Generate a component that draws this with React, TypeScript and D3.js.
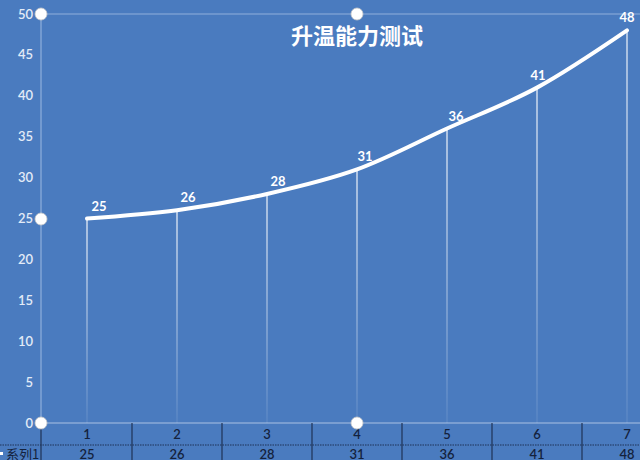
import React from "react";
import * as d3 from "d3";

const categories = ["1", "2", "3", "4", "5", "6", "7"];
const values = [25, 26, 28, 31, 36, 41, 48];
const yTicks = [0, 5, 10, 15, 20, 25, 30, 35, 40, 45, 50];
const seriesName = "系列1";
const title = "升温能力测试";
const labelDx = [12, 11, 11, 8, 9, 1, 0];

const W = 640;
const H = 460;
const BG = "#4a7bbf";

export default function App() {
  const x = d3.scaleBand<string>().domain(categories).range([42, 672]).padding(0);
  const y = d3.scaleLinear().domain([0, 50]).range([423, 14]);
  const cx = (c: string) => (x(c) as number) + x.bandwidth() / 2;
  const pts: [number, number][] = categories.map((c, i) => [cx(c), y(values[i])]);
  const line = d3.line().curve(d3.curveMonotoneX)(pts) || "";
  const bounds = categories.map((c) => x(c) as number).slice(1);
  const font = "Lato, 'Noto Sans CJK SC', sans-serif";

  return (
    <svg width={W} height={H} style={{ position: "absolute", left: 0, top: 0 }} fontFamily={font}>
      <defs>
        <linearGradient id="drop" x1="0" y1="0" x2="0" y2="1">
          <stop offset="0" stopColor="#ffffff" stopOpacity={0.75} />
          <stop offset="1" stopColor="#ffffff" stopOpacity={0.08} />
        </linearGradient>
      </defs>
      <rect x={0} y={0} width={W} height={H} fill={BG} />
      {/* plot borders */}
      <line x1={41} x2={W} y1={14} y2={14} stroke="#8fb0dc" strokeWidth={1.2} />
      <line x1={41} x2={41} y1={14} y2={423} stroke="#8fb0dc" strokeWidth={1.2} />
      <line x1={41} x2={W} y1={423} y2={423} stroke="#a9c1e4" strokeWidth={1.2} />
      {/* y ticks */}
      {yTicks.map((t) => (
        <text key={t} x={33} y={y(t)} dy="0.35em" textAnchor="end" fontSize={13} fontWeight={600} fill="#e3ebf7">
          {t}
        </text>
      ))}
      {/* drop lines */}
      {pts.map((p, i) => (
        <rect key={i} x={p[0] - 0.75} y={p[1]} width={1.5} height={423 - p[1]} fill="url(#drop)" />
      ))}
      {/* line */}
      <path d={line} fill="none" stroke="#ffffff" strokeWidth={4} strokeLinecap="round" />
      {/* data labels */}
      {pts.map((p, i) => (
        <text key={i} x={p[0] + labelDx[i]} y={p[1] - 8} textAnchor="middle" fontSize={13} fontWeight="bold" fill="#ffffff">
          {values[i]}
        </text>
      ))}
      {/* title */}
      <text x={357} y={44} textAnchor="middle" fontSize={22} fontWeight="bold" fill="#ffffff" fontFamily="'Noto Sans CJK SC', serif">
        {title}
      </text>
      {/* data table */}
      <line x1={0} x2={W} y1={445} y2={445} stroke="#1f3356" strokeWidth={1} strokeDasharray="1.5,1" />
      <line x1={41} x2={41} y1={423} y2={H} stroke="#1f3356" strokeWidth={1.2} />
      {bounds.map((b, i) => (
        <line key={i} x1={b} x2={b} y1={423} y2={H} stroke="#1f3356" strokeWidth={1.2} />
      ))}
      {categories.map((c) => (
        <text key={c} x={cx(c)} y={434} dy="0.35em" textAnchor="middle" fontSize={13} fontWeight={600} fill="#14223d">
          {c}
        </text>
      ))}
      {categories.map((c, i) => (
        <text key={c} x={cx(c)} y={454} dy="0.35em" textAnchor="middle" fontSize={13} fontWeight={600} fill="#14223d">
          {values[i]}
        </text>
      ))}
      <rect x={0} y={452} width={3} height={3} fill="#ffffff" />
      <text x={6} y={454} dy="0.35em" fontSize={13} fill="#14223d" fontFamily="'Noto Sans CJK SC', sans-serif">
        {seriesName}
      </text>
      {/* selection handles */}
      {[
        [41, 14],
        [357, 14],
        [41, 219],
        [41, 423],
        [357, 423],
      ].map(([hx, hy], i) => (
        <circle key={i} cx={hx} cy={hy} r={6} fill="#ffffff" stroke="#c8c8c8" strokeWidth={0.8} />
      ))}
    </svg>
  );
}
